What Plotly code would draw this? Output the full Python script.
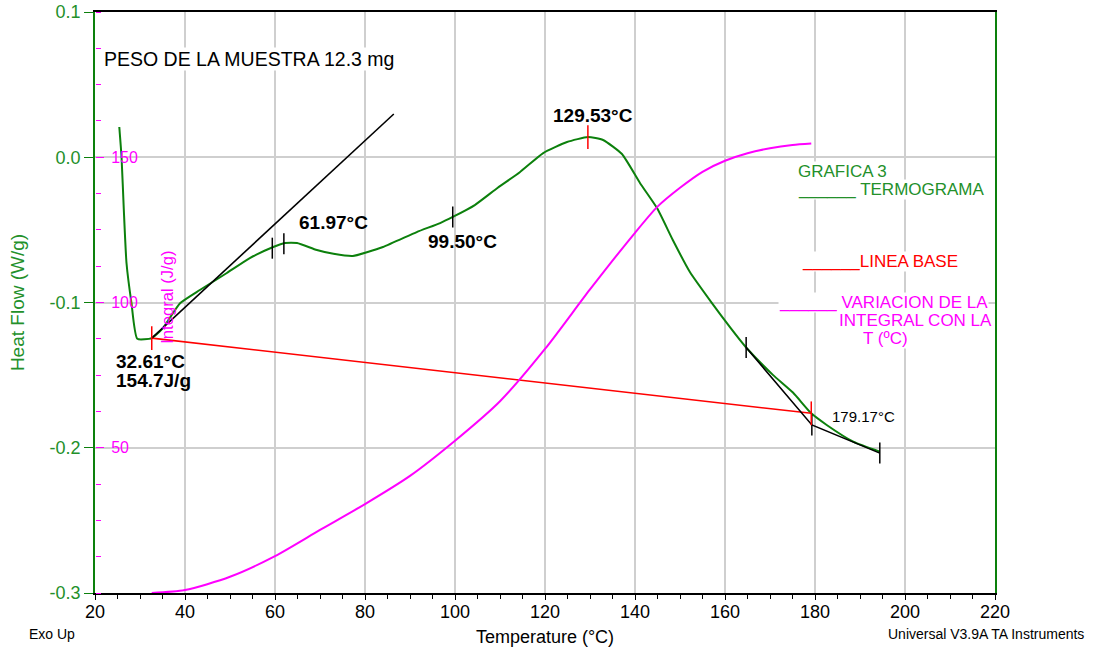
import plotly.graph_objects as go

# --- Thermogram (heat flow, W/g) ---
temp_hf = [25.4, 25.9, 26.4, 27.0, 28.1, 29.4, 32.61, 35.0, 38.9, 43.3, 49.3, 54.4,
           59.6, 62.2, 64.9, 69.3, 73.0, 77.3, 84.0, 91.5, 96.7, 99.5, 104.4, 109.5,
           114.4, 119.6, 124.9, 129.53, 132.9, 137.1, 141.1, 144.9, 148.4, 152.2,
           157.1, 161.1, 164.7, 170.7, 175.1, 179.17, 182.6, 188.5, 194.4]
heat_flow = [0.0208, 0.0, -0.036, -0.0728, -0.1003, -0.1250, -0.1245, -0.118, -0.1005,
             -0.0914, -0.0797, -0.0694, -0.0618, -0.0590, -0.0590, -0.0639, -0.0665,
             -0.0680, -0.0618, -0.0515, -0.0453, -0.0411, -0.0329, -0.0210, -0.0103,
             0.0029, 0.0105, 0.0139, 0.0119, 0.0022, -0.0177, -0.0350, -0.0570,
             -0.0790, -0.1004, -0.1170, -0.1310, -0.1500, -0.1620, -0.1763, -0.1843,
             -0.1958, -0.2027]

# --- Integral (J/g) ---
temp_int = [32.61, 40, 50, 60, 70, 80, 90, 100, 110, 120, 130, 140, 145, 150, 155,
            160, 165, 170, 175, 179.17]
integral = [0.0, 1.0, 5.6, 12.7, 21.7, 30.6, 40.3, 52.4, 66.0, 84.0, 104.5, 124.0,
            133.0, 139.5, 145.0, 148.8, 151.4, 153.1, 154.2, 154.7]

# --- Baseline (red) ---
base_t = [32.61, 179.17]
base_hf = [-0.1245, -0.1763]

# --- Tangent constructions (black) ---
tan1_t = [32.61, 86.4]
tan1_hf = [-0.1245, 0.0298]
tan2_t = [164.7, 179.3, 194.4]
tan2_hf = [-0.1310, -0.1843, -0.2037]

# --- Cursor marks ---
black_mark_t = [59.4, 61.97, 99.5, 164.7, 179.3, 194.4]
black_mark_hf = [-0.0626, -0.0595, -0.0411, -0.1310, -0.1843, -0.2037]
red_mark_t = [32.61, 129.53, 179.17]
red_mark_hf = [-0.1245, 0.0139, -0.1763]

# --- Axis ticks ---
hf_ticks = [-0.3, -0.2, -0.1, 0.0, 0.1]
hf_tick_text = ["-0.3", "-0.2", "-0.1", "0.0", "0.1"]
int_ticks = [50, 100, 150]
int_tick_text = ["50", "100", "150"]

GREEN = "#0c800c"
GREEN_TXT = "#23902a"
MAGENTA = "#ff00ff"
RED = "#ff0000"
FONT = "Arial, Liberation Sans, sans-serif"

fig = go.Figure()

fig.add_trace(go.Scatter(x=temp_int, y=integral, yaxis="y2", mode="lines",
                         line=dict(color=MAGENTA, width=2, shape="spline", smoothing=0.7)))
fig.add_trace(go.Scatter(x=temp_hf, y=heat_flow, mode="lines",
                         line=dict(color=GREEN, width=2, shape="spline", smoothing=0.5)))
fig.add_trace(go.Scatter(x=base_t, y=base_hf, mode="lines",
                         line=dict(color=RED, width=1.6)))
fig.add_trace(go.Scatter(x=tan1_t, y=tan1_hf, mode="lines",
                         line=dict(color="black", width=1.6)))
fig.add_trace(go.Scatter(x=tan2_t, y=tan2_hf, mode="lines",
                         line=dict(color="black", width=1.6)))
fig.add_trace(go.Scatter(x=black_mark_t, y=black_mark_hf, mode="markers",
                         marker=dict(symbol="line-ns", size=15,
                                     line=dict(color="black", width=1.5))))
fig.add_trace(go.Scatter(x=red_mark_t, y=red_mark_hf, mode="markers",
                         marker=dict(symbol="line-ns", size=17,
                                     line=dict(color=RED, width=1.5))))


def note(text, x, y, size, color="black", bold=False, bg=None, xref="x", yref="y",
         angle=0, xanchor="left"):
    if bold:
        text = "<b>" + text + "</b>"
    fig.add_annotation(text=text, x=x, y=y, xref=xref, yref=yref, showarrow=False,
                       xanchor=xanchor, yanchor="middle", textangle=angle,
                       font=dict(family=FONT, size=size, color=color),
                       bgcolor=bg, borderpad=0)


note("PESO DE LA MUESTRA 12.3 mg", 21.8, 0.0676, 19.5, bg="white")
note("61.97°C", 65.1, -0.0450, 19, bold=True)
note("99.50°C", 93.8, -0.0583, 19, bold=True)
note("129.53°C", 121.6, 0.0290, 19, bold=True)
note("32.61°C", 24.4, -0.1408, 19, bold=True)
note("154.7J/g", 24.4, -0.1540, 19, bold=True)
note("179.17°C", 183.6, -0.1786, 15)

note("GRAFICA 3", 176.0, -0.0100, 17, color=GREEN_TXT, bg="white")
note("______ TERMOGRAMA", 176.0, -0.0225, 17, color=GREEN_TXT, bg="white")
note("______LINEA BASE", 176.9, -0.0719, 17, color=RED, bg="white")
note("______ VARIACION DE LA", 171.8, -0.0997, 17, color=MAGENTA, bg="white")
note("INTEGRAL CON LA", 185.1, -0.1121, 17, color=MAGENTA, bg="white")
note("T (ºC)", 190.4, -0.1245, 17, color=MAGENTA, bg="white")

note("Integral (J/g)", 36.2, -0.0961, 16.6, color=MAGENTA, angle=-90, xanchor="center")

note("Exo Up", -0.0744, -0.0706, 14, xref="paper", yref="paper")
note("Universal V3.9A TA Instruments", 0.880, -0.0706, 14, xref="paper", yref="paper")

GRID = "#cfcfcf"
fig.update_layout(
    width=1106, height=651,
    margin=dict(l=95, r=111, t=12, b=58, autoexpand=False),
    paper_bgcolor="white", plot_bgcolor="white",
    showlegend=False,
    font=dict(family=FONT),
    xaxis=dict(range=[20, 220], tick0=20, dtick=20, ticks="outside", ticklen=5,
               tickcolor="black", linecolor="black", linewidth=1.5, mirror=True,
               showgrid=True, gridcolor=GRID, gridwidth=1.5, zeroline=False,
               tickfont=dict(size=18, color="black"), ticklabelstandoff=-3,
               minor=dict(dtick=5, tick0=20, ticks="outside", ticklen=4,
                          tickcolor="black", showgrid=False),
               title=dict(text="Temperature (°C)", font=dict(size=18, color="black"),
                          standoff=9),
               automargin=False),
    yaxis=dict(range=[-0.3, 0.1], tickvals=hf_ticks, ticktext=hf_tick_text,
               ticks="outside", ticklen=9, tickcolor=GREEN, linecolor=GREEN,
               linewidth=1.5, mirror=True, showgrid=True, gridcolor=GRID, gridwidth=1.5,
               zeroline=False, tickfont=dict(size=18, color=GREEN_TXT),
               title=dict(text="Heat Flow (W/g)", font=dict(size=19, color=GREEN_TXT),
                          standoff=20),
               automargin=False),
    # Integral scale drawn on the left edge, labels facing into the plot
    yaxis2=dict(range=[0, 200], overlaying="y", side="right", anchor="free", position=0,
                tickvals=int_ticks, ticktext=int_tick_text, ticks="outside", ticklen=8,
                tickcolor=MAGENTA, ticklabelstandoff=4,
                tickfont=dict(size=16, color=MAGENTA), showgrid=False, showline=False,
                zeroline=False,
                minor=dict(dtick=12.5, tick0=0, ticks="outside", ticklen=5,
                           tickcolor=MAGENTA, showgrid=False),
                automargin=False),
)

fig.write_html("out.html")
